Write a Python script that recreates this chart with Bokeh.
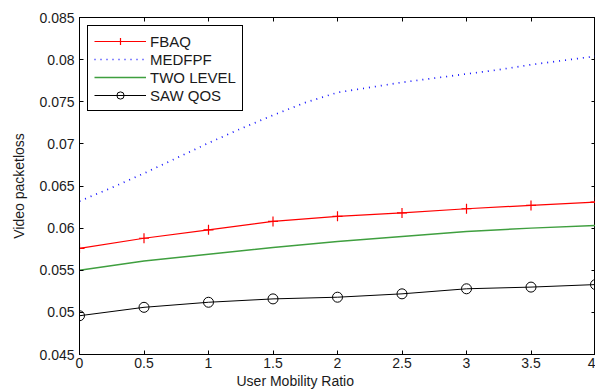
from bokeh.plotting import figure
from bokeh.models import Range1d, FixedTicker, LinearAxis, Title
from bokeh.embed import file_html
from bokeh.resources import INLINE

# ---- data ----
x_ratio = [0, 0.5, 1, 1.5, 2, 2.5, 3, 3.5, 4]
fbaq = [0.0576, 0.0588, 0.0598, 0.0608, 0.0614, 0.0618, 0.0623, 0.0627, 0.0631]
two_level = [0.0550, 0.0561, 0.0569, 0.0577, 0.0584, 0.0590, 0.0596, 0.0600, 0.0603]
saw_qos = [0.0496, 0.0506, 0.0512, 0.0516, 0.0518, 0.0522, 0.0528, 0.0530, 0.0533]
x_medfpf = [0, 0.25, 0.5, 0.75, 1, 1.25, 1.5, 1.75, 2, 2.25, 2.5, 2.75, 3, 3.25, 3.5, 3.75, 4]
medfpf = [0.0632, 0.0648, 0.0665, 0.0683, 0.0701, 0.0718, 0.0734, 0.0749, 0.0761,
          0.0767, 0.0773, 0.0778, 0.0783, 0.0788, 0.0794, 0.0799, 0.0804]

x_ticks = [0, 0.5, 1, 1.5, 2, 2.5, 3, 3.5, 4]
x_tick_labels = ["0", "0.5", "1", "1.5", "2", "2.5", "3", "3.5", "4"]
y_ticks = [0.045, 0.05, 0.055, 0.06, 0.065, 0.07, 0.075, 0.08, 0.085]
y_tick_labels = ["0.045", "0.05", "0.055", "0.06", "0.065", "0.07", "0.075", "0.08", "0.085"]

FONT = "Liberation Sans"
TXT = "#1a1a1a"

p = figure(width=595, height=389, x_range=Range1d(0, 4), y_range=Range1d(0.045, 0.085),
           output_backend="svg", toolbar_location=None,
           min_border_left=79, min_border_right=0, min_border_top=17, min_border_bottom=35)
p.background_fill_color = "white"
p.border_fill_color = "white"
p.outline_line_color = "black"
p.xgrid.visible = False
p.ygrid.visible = False

def style_axis(ax, ticks, labels, show_labels=True):
    ax.ticker = FixedTicker(ticks=ticks)
    ax.major_tick_in = 4
    ax.major_tick_out = 0
    ax.minor_tick_line_color = None
    ax.axis_line_color = "black"
    ax.major_tick_line_color = "black"
    if show_labels:
        ax.major_label_overrides = {t: s for t, s in zip(ticks, labels)}
        ax.major_label_text_font = FONT
        ax.major_label_text_font_size = "14px"
        ax.major_label_text_color = TXT
    else:
        ax.major_label_text_font_size = "1px"
        ax.major_label_text_color = None
        ax.major_label_standoff = 0

style_axis(p.xaxis[0], x_ticks, x_tick_labels)
p.xaxis[0].major_label_standoff = 3
style_axis(p.yaxis[0], y_ticks, y_tick_labels)
p.yaxis[0].major_label_standoff = 5
p.yaxis[0].axis_label = "Video packetloss"
p.yaxis[0].axis_label_text_font = FONT
p.yaxis[0].axis_label_text_font_size = "14px"
p.yaxis[0].axis_label_text_font_style = "normal"
p.yaxis[0].axis_label_text_color = TXT
p.yaxis[0].axis_label_standoff = 9

right_ax = LinearAxis()
style_axis(right_ax, y_ticks, y_tick_labels, show_labels=False)
p.add_layout(right_ax, "right")
top_ax = LinearAxis()
style_axis(top_ax, x_ticks, x_tick_labels, show_labels=False)
p.add_layout(top_ax, "above")

# series
p.line(x_ratio, fbaq, line_color="#ff0000", line_width=1.2, legend_label="FBAQ")
p.scatter(x_ratio, fbaq, marker="cross", size=10, line_color="#ff0000", line_width=1.2,
          legend_label="FBAQ")
p.line(x_medfpf, medfpf, line_color="#1010ff", line_width=1.7, line_dash="1 5",
       legend_label="MEDFPF")
p.line(x_ratio, two_level, line_color="#3f9f3f", line_width=1.5, legend_label="TWO LEVEL")
p.line(x_ratio, saw_qos, line_color="black", line_width=1, legend_label="SAW QOS")
p.scatter(x_ratio, saw_qos, marker="circle", size=10, line_color="black", fill_color=None,
          line_width=1, legend_label="SAW QOS")

lg = p.legend[0]
lg.location = "top_left"
lg.margin = 8
lg.padding = 6
lg.spacing = 0
lg.glyph_width = 52
lg.glyph_height = 18
lg.label_height = 18
lg.label_standoff = 4
lg.label_text_font = FONT
lg.label_text_font_size = "15px"
lg.label_text_color = TXT
lg.border_line_color = "black"
lg.border_line_alpha = 1
lg.border_line_width = 1
lg.background_fill_color = "white"
lg.background_fill_alpha = 1

xtitle = Title(text="User Mobility Ratio", align="left", offset=157, standoff=0,
               text_font=FONT, text_font_size="14px", text_font_style="normal",
               text_color=TXT)
p.add_layout(xtitle, "below")

open("out.html", "w").write(file_html(p, INLINE))
